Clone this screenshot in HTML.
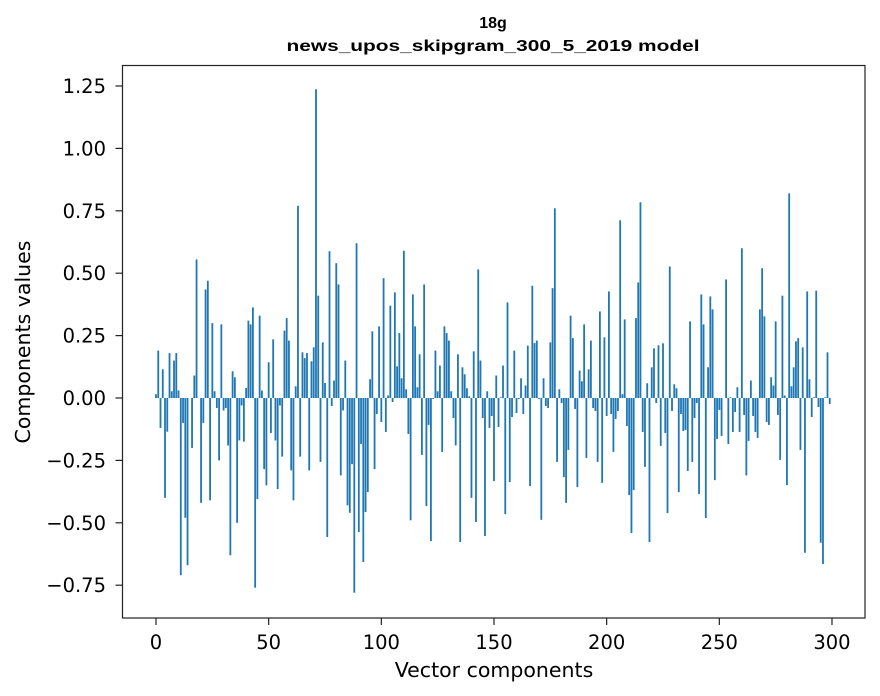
<!DOCTYPE html>
<html><head><meta charset="utf-8">
<style>
html,body{margin:0;padding:0;background:#fff;}
svg{display:block;font-family:"DejaVu Sans","Liberation Sans",sans-serif;}
</style></head>
<body>
<svg id="chart" width="880" height="696" viewBox="0 0 880 696">
<rect x="0" y="0" width="880" height="696" fill="#fff"/>
<text x="493" y="28" text-anchor="middle" font-size="16" font-weight="bold" font-family="Liberation Sans, sans-serif">18g</text>
<text x="493" y="51" text-anchor="middle" font-size="16" font-weight="bold" font-family="Liberation Sans, sans-serif" textLength="413" lengthAdjust="spacingAndGlyphs">news_upos_skipgram_300_5_2019 model</text>
<g id="bars"></g>
<g id="xticks"></g>
<g id="yticks"></g>
<rect x="122.5" y="65.5" width="742.5" height="552.5" fill="none" stroke="#222" stroke-width="1.2"/>
<text x="494" y="677" text-anchor="middle" font-size="20.5">Vector components</text>
<text x="0" y="0" transform="translate(30,342) rotate(-90)" text-anchor="middle" font-size="20.5">Components values</text>
</svg>
<script>
const values = [
0.015,0.19,-0.12,0.115,-0.40,-0.135,0.18,0.027,0.15,0.18,
0.03,-0.71,-0.10,-0.48,-0.67,0,-0.20,0.09,0.555,0,
-0.42,-0.10,0.435,0.47,-0.41,0.30,0.027,-0.04,-0.25,0.295,
-0.05,-0.04,-0.19,-0.63,0.107,0.083,-0.50,-0.17,-0.03,-0.175,
0.04,0.31,0.295,0.363,-0.76,-0.405,0.33,0.03,-0.285,-0.35,
0.143,-0.14,0.235,-0.17,-0.365,-0.03,-0.235,0.27,0.32,0.23,
-0.29,-0.41,0.047,0.77,-0.235,0.183,0.16,0.18,-0.29,0.147,
0.203,1.237,0.41,-0.256,0.223,0.06,-0.557,0.588,-0.032,0.07,
0.54,0.455,-0.31,-0.05,0.15,-0.43,-0.46,-0.265,-0.78,0.62,
-0.537,-0.184,-0.657,-0.457,-0.377,0.075,0.267,-0.285,-0.064,0.287,
-0.096,0.48,-0.136,0.01,0.37,-0.016,0.423,0.127,0.26,0.079,
0.59,0.035,-0.144,-0.49,0.415,0.287,0.043,0.175,-0.228,0.455,
-0.433,-0.108,-0.573,-0.004,0.19,0.027,0.13,-0.216,0.287,0.26,
0.23,0.027,-0.08,-0.19,0.175,-0.577,0.123,0.095,0.039,0.007,
-0.40,0.187,-0.497,0.515,0.15,-0.08,-0.553,0.027,-0.12,-0.072,
-0.333,0.09,-0.116,0.003,0.13,-0.465,0.383,-0.337,-0.076,0.19,
-0.06,-0.004,0.079,-0.064,0.05,0.21,-0.353,0.45,0.22,0.23,
-0.004,-0.488,0.079,-0.032,-0.04,0.223,0.44,0.76,-0.256,0.035,
-0.02,-0.317,-0.42,-0.208,0.33,0.24,-0.044,-0.357,0.11,0.067,
0.295,-0.24,0.115,0.23,-0.04,-0.052,-0.256,0.347,-0.34,0.243,
-0.072,0.427,-0.064,-0.216,-0.084,-0.052,0.712,0.015,0.315,-0.112,
-0.389,-0.541,-0.369,0.32,0.463,0.784,-0.136,-0.276,0.059,-0.577,
0.123,0.199,-0.02,0.211,-0.192,0.219,-0.14,-0.461,0.527,-0.052,
0.055,0.039,-0.377,-0.064,-0.132,-0.128,-0.292,0.307,-0.256,-0.08,
-0.02,-0.385,0.415,0.295,-0.481,0.123,0.407,0.355,-0.329,-0.164,
-0.048,-0.152,0,0.475,-0.184,0.003,-0.136,-0.056,0.043,-0.136,
0.60,-0.068,-0.31,-0.172,0.07,-0.072,-0.136,-0.16,0.355,0.52,
0.327,-0.096,-0.108,0.083,0.05,0.307,-0.068,-0.248,0.41,0.01,
-0.349,0.82,0.047,0.123,0.227,0.24,-0.208,0.203,-0.62,0.427,
0.075,-0.076,0.003,0.43,-0.036,-0.58,-0.665,0.003,0.183,-0.024
];
const xTicks = [0,50,100,150,200,250,300];
const yTicks = [-0.75,-0.5,-0.25,0,0.25,0.5,0.75,1.0,1.25];
const yTickLabels = ["\u22120.75","\u22120.50","\u22120.25","0.00","0.25","0.50","0.75","1.00","1.25"];

const NS = "http://www.w3.org/2000/svg";
function xScale(v){ return 156 + v * 2.2533; }
function yScale(v){ return 398 - v * 249.6; }

const barsG = document.getElementById('bars');
values.forEach((v, i) => {
  const r = document.createElementNS(NS, 'rect');
  const x0 = xScale(i - 0.4), x1 = xScale(i + 0.4);
  const y0 = yScale(Math.max(v, 0)), y1 = yScale(Math.min(v, 0));
  r.setAttribute('x', x0);
  r.setAttribute('y', y0);
  r.setAttribute('width', x1 - x0);
  r.setAttribute('height', Math.max(y1 - y0, 0));
  r.setAttribute('fill', '#1f77b4');
  
  
  barsG.appendChild(r);
});

const xg = document.getElementById('xticks');
xTicks.forEach(t => {
  const x = xScale(t);
  const l = document.createElementNS(NS, 'line');
  l.setAttribute('x1', x); l.setAttribute('x2', x);
  l.setAttribute('y1', 618); l.setAttribute('y2', 625);
  l.setAttribute('stroke', '#222');
  l.setAttribute('stroke-width', '1.2');
  
  
  xg.appendChild(l);
  const tx = document.createElementNS(NS, 'text');
  tx.setAttribute('x', x); tx.setAttribute('y', 649);
  tx.setAttribute('text-anchor', 'middle');
  tx.setAttribute('font-size', '19.5');
  tx.textContent = String(t);
  
  
  xg.appendChild(tx);
});

const yg = document.getElementById('yticks');
yTicks.forEach((t, k) => {
  const y = yScale(t);
  const l = document.createElementNS(NS, 'line');
  l.setAttribute('x1', 115.5); l.setAttribute('x2', 122.5);
  l.setAttribute('y1', y); l.setAttribute('y2', y);
  l.setAttribute('stroke', '#222');
  l.setAttribute('stroke-width', '1.2');
  
  
  yg.appendChild(l);
  const tx = document.createElementNS(NS, 'text');
  tx.setAttribute('x', 106); tx.setAttribute('y', y + 7);
  tx.setAttribute('text-anchor', 'end');
  tx.setAttribute('font-size', '19.5');
  tx.textContent = yTickLabels[k];
  
  
  yg.appendChild(tx);
});
</script>
</body></html>
